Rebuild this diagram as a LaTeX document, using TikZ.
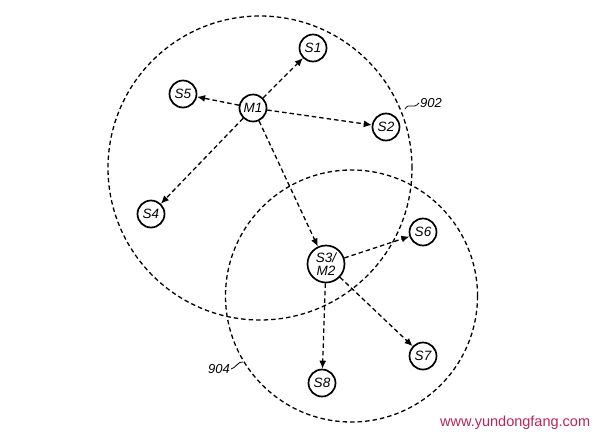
\documentclass[tikz,border=0pt]{standalone}
\usepackage{fontspec}
\setmainfont{Liberation Sans}
\usetikzlibrary{arrows.meta}
\definecolor{wmark}{RGB}{190,35,85}
\begin{document}
\begin{tikzpicture}[x=1pt,y=-1pt,
  dev/.style={circle,draw,line width=1.7pt,minimum size=27pt,inner sep=0pt,
    font=\itshape\fontsize{13.5}{13}\selectfont},
  link/.style={dash pattern=on 4.5pt off 3pt, line width=1.3pt,
    -{Latex[length=8pt,width=7pt]}},
  zone/.style={draw, dash pattern=on 4.5pt off 3pt, line width=1.3pt},
  tag/.style={font=\itshape\fontsize{13}{13}\selectfont, inner sep=1pt},
  leader/.style={line width=0.8pt}]
\useasboundingbox (0,0) rectangle (600,437);
% zones
\draw[zone] (260,168) circle[radius=152pt];
\draw[zone] (351.5,296) circle[radius=126pt];
% devices
\node[dev] (M1) at (253,108) {M1};
\node[dev] (S1) at (313,48) {S1};
\node[dev] (S5) at (183,94) {S5};
\node[dev] (S2) at (386,127) {S2};
\node[dev] (S4) at (151,214) {S4};
\node[dev, minimum size=37pt, align=center,
  font=\itshape\fontsize{13.5}{13.5}\selectfont] (S3) at (326,264) {S3/\\M2};
\node[dev] (S6) at (423,232) {S6};
\node[dev] (S7) at (423,356) {S7};
\node[dev] (S8) at (322,383) {S8};
% links
\draw[link] (M1) -- (S1);
\draw[link] (M1) -- (S5);
\draw[link] (M1) -- (S2);
\draw[link] (M1) -- (S4);
\draw[link] (M1) -- (S3);
\draw[link] (S3) -- (S6);
\draw[link] (S3) -- (S7);
\draw[link] (S3) -- (S8);
% zone labels
\node[tag, anchor=west] (L902) at (419,103) {902};
\coordinate (e902) at (405,109);
\draw[leader] (e902) .. controls (409,102) and (413,110) .. (L902.west);
\node[tag, anchor=east] (L904) at (231,369) {904};
\coordinate (e904) at (243,362);
\draw[leader] (L904.east) .. controls (236,368) and (238,361) .. (e904);
% watermark
\node[anchor=west, text=wmark, font=\fontsize{14.5}{15}\selectfont, inner sep=0pt] (wm) at (440,423) {www.yundongfang.com};
\end{tikzpicture}
\end{document}
